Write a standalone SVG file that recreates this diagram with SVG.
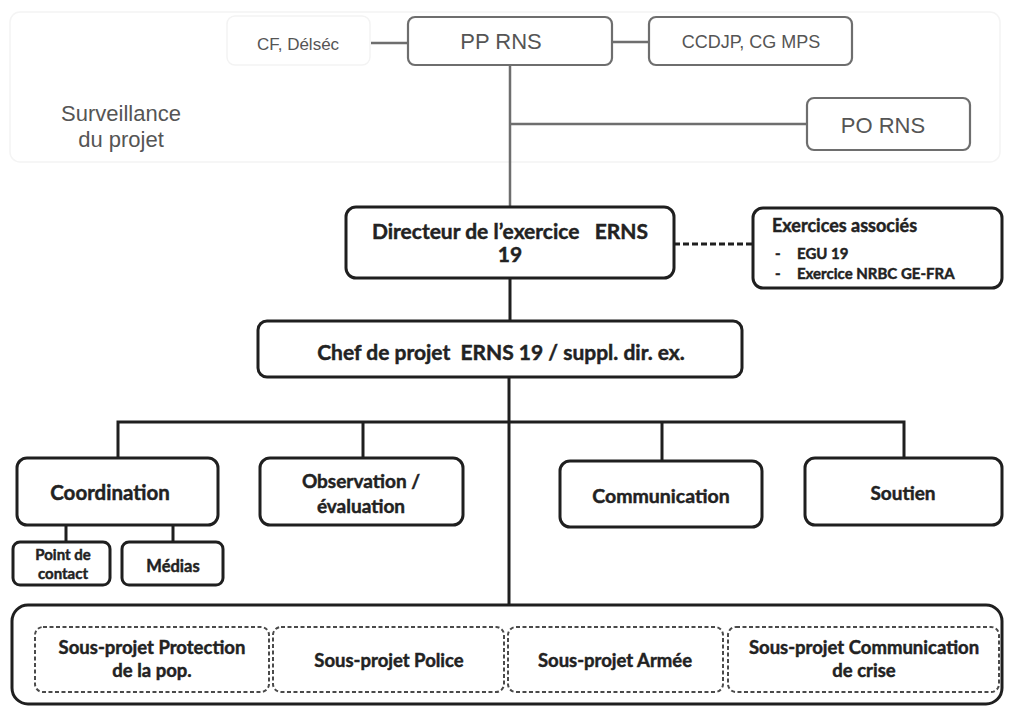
<svg xmlns="http://www.w3.org/2000/svg" width="1012" height="708" viewBox="0 0 1012 708">
<style>
.bg{fill:#ffffff}
.panel{fill:none;stroke:#f4f4f4;stroke-width:1.5}
.gbox{fill:#ffffff;stroke:#6e6e6e;stroke-width:2.2}
.fbox{fill:none;stroke:#f3f3f3;stroke-width:1.5}
.gtxt{font-family:"Liberation Sans",Arial,sans-serif;fill:#555555;text-anchor:middle}
.box{fill:#ffffff;stroke:#1f1f1f;stroke-width:3}
.dbox{fill:#ffffff;stroke:#4a4a4a;stroke-width:2;stroke-dasharray:4 2.5}
.txt{font-family:"Lato","Open Sans",sans-serif;font-weight:700;fill:#222222;stroke:#222222;stroke-width:0.45;text-anchor:middle}
.ltxt{text-anchor:start}
.gl{fill:none;stroke:#6e6e6e;stroke-width:2.5}
.bl{fill:none;stroke:#1f1f1f;stroke-width:3}
.dl{fill:none;stroke:#1f1f1f;stroke-width:3;stroke-dasharray:6 3}
</style>
<rect class="bg" x="0" y="0" width="1012" height="708"/>
<rect class="panel" x="10" y="12" width="990" height="150" rx="10"/>
<text class="gtxt" x="121" y="121" font-size="22">Surveillance</text>
<text class="gtxt" x="121" y="147" font-size="22">du projet</text>
<g id="connectors">
<line class="gl" x1="371" y1="43" x2="408" y2="43"/>
<line class="gl" x1="612" y1="42" x2="649" y2="42"/>
<line class="gl" x1="510" y1="66" x2="510" y2="207"/>
<line class="gl" x1="510" y1="124" x2="807" y2="124"/>
<line class="dl" x1="674" y1="244" x2="753" y2="244"/>
<line class="bl" x1="510" y1="278" x2="510" y2="321"/>
<line class="bl" x1="509" y1="377" x2="509" y2="605"/>
<polyline class="bl" points="118,458 118,422 904,422 904,458"/>
<line class="bl" x1="363" y1="422" x2="363" y2="458"/>
<line class="bl" x1="662" y1="422" x2="662" y2="461"/>
<line class="bl" x1="66" y1="525" x2="66" y2="542"/>
<line class="bl" x1="173" y1="525" x2="173" y2="542"/>
</g>
<g id="cf">
<rect class="fbox" x="227" y="16" width="143" height="49" rx="8"/>
<text class="gtxt" x="298" y="50" font-size="17">CF, Délséc</text>
</g>
<g id="pp">
<rect class="gbox" x="408" y="17" width="204" height="48" rx="7"/>
<text class="gtxt" x="501" y="49" font-size="22">PP RNS</text>
</g>
<g id="ccdjp">
<rect class="gbox" x="649" y="17" width="203" height="48" rx="7"/>
<text class="gtxt" x="751" y="48" font-size="18">CCDJP, CG MPS</text>
</g>
<g id="po">
<rect class="gbox" x="807" y="98" width="163" height="52" rx="7"/>
<text class="gtxt" x="883" y="133" font-size="22">PO RNS</text>
</g>
<g id="directeur">
<rect class="box" x="346" y="207" width="328" height="71" rx="10"/>
<text class="txt" x="510" y="239" font-size="21" xml:space="preserve">Directeur de l’exercice   ERNS</text>
<text class="txt" x="510" y="262" font-size="21">19</text>
</g>
<g id="exercices">
<rect class="box" x="753" y="208" width="249" height="80" rx="10"/>
<text class="txt ltxt" x="772" y="232" font-size="18">Exercices associés</text>
<text class="txt ltxt" x="775" y="259" font-size="15">-</text>
<text class="txt ltxt" x="797" y="259" font-size="15">EGU 19</text>
<text class="txt ltxt" x="775" y="279" font-size="15">-</text>
<text class="txt ltxt" x="797" y="279" font-size="15">Exercice NRBC GE-FRA</text>
</g>
<g id="chef">
<rect class="box" x="258" y="321" width="484" height="56" rx="9"/>
<text class="txt" x="501" y="360" font-size="21" xml:space="preserve">Chef de projet  ERNS 19 / suppl. dir. ex.</text>
</g>
<g id="coordination">
<rect class="box" x="17" y="458" width="201" height="67" rx="10"/>
<text class="txt" x="110" y="500" font-size="20.5">Coordination</text>
</g>
<g id="observation">
<rect class="box" x="260" y="458" width="203" height="67" rx="10"/>
<text class="txt" x="361" y="488" font-size="19">Observation /</text>
<text class="txt" x="361" y="513" font-size="19">évaluation</text>
</g>
<g id="communication">
<rect class="box" x="560" y="461" width="202" height="66" rx="10"/>
<text class="txt" x="661" y="503" font-size="19.5">Communication</text>
</g>
<g id="soutien">
<rect class="box" x="805" y="458" width="197" height="67" rx="10"/>
<text class="txt" x="903" y="500" font-size="19">Soutien</text>
</g>
<g id="point-contact">
<rect class="box" x="13" y="542" width="97" height="43" rx="7"/>
<text class="txt" x="63" y="560" font-size="15">Point de</text>
<text class="txt" x="63" y="579" font-size="15">contact</text>
</g>
<g id="medias">
<rect class="box" x="122" y="542" width="101" height="43" rx="7"/>
<text class="txt" x="173" y="572" font-size="16.5">Médias</text>
</g>
<g id="sous-projets">
<rect class="box" x="12" y="605" width="990" height="99" rx="16"/>
</g>
<g id="sp-protection">
<rect class="dbox" x="35" y="627" width="234" height="65" rx="8"/>
<text class="txt" x="152" y="654" font-size="18.5">Sous-projet Protection</text>
<text class="txt" x="152" y="677" font-size="18.5">de la pop.</text>
</g>
<g id="sp-police">
<rect class="dbox" x="273" y="627" width="231" height="65" rx="8"/>
<text class="txt" x="389" y="667" font-size="18.5">Sous-projet Police</text>
</g>
<g id="sp-armee">
<rect class="dbox" x="508" y="627" width="215" height="65" rx="8"/>
<text class="txt" x="615" y="667" font-size="18.5">Sous-projet Armée</text>
</g>
<g id="sp-communication">
<rect class="dbox" x="728" y="627" width="271" height="65" rx="8"/>
<text class="txt" x="864" y="654" font-size="18.5">Sous-projet Communication</text>
<text class="txt" x="864" y="677" font-size="18.5">de crise</text>
</g>
</svg>
